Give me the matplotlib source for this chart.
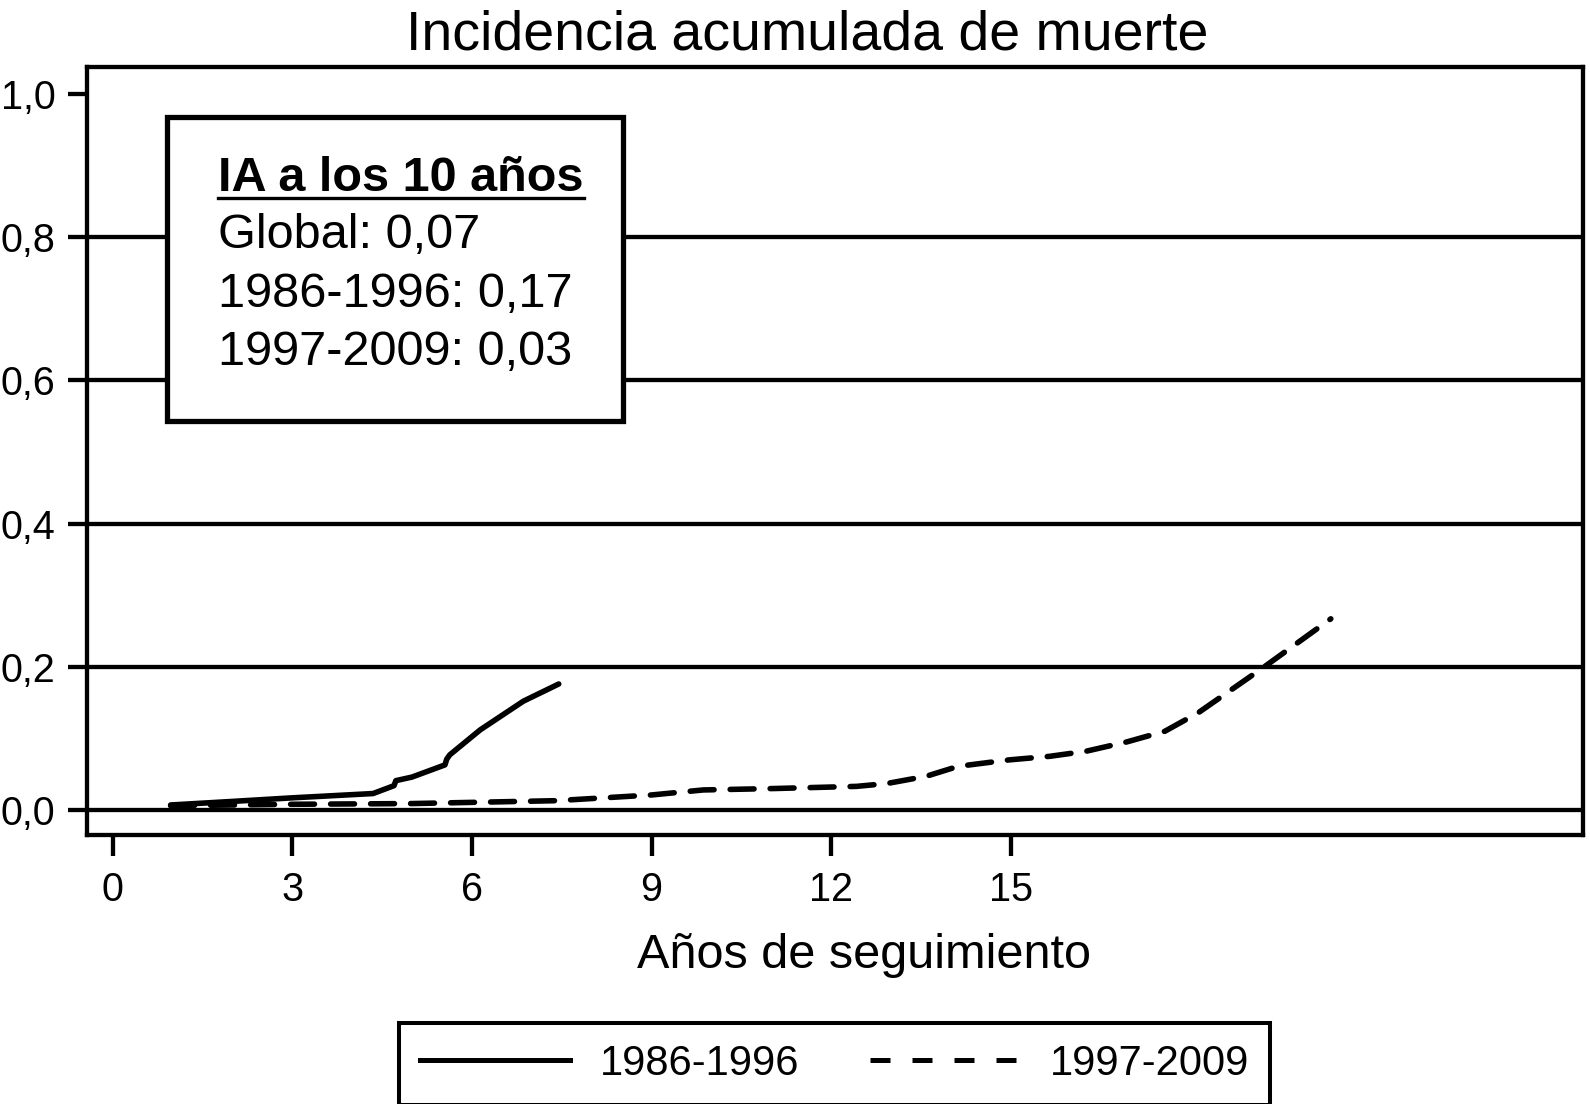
import matplotlib
matplotlib.use("Agg")
import matplotlib.pyplot as plt
from matplotlib.lines import Line2D
from matplotlib.patches import Rectangle

plt.rcParams['font.family'] = ['Liberation Sans', 'DejaVu Sans']

# ---- data ----
title = "Incidencia acumulada de muerte"
xlabel = "Años de seguimiento"
xticks = [0, 3, 6, 9, 12, 15]
yticks = [0.0, 0.2, 0.4, 0.6, 0.8, 1.0]
ytick_labels = ["0,0", "0,2", "0,4", "0,6", "0,8", "1,0"]
grid_levels = [0.0, 0.2, 0.4, 0.6, 0.8]

t_8696 = [0.97, 2.0, 3.0, 4.35, 4.70, 4.73, 5.0, 5.55, 5.58, 5.63, 6.14, 6.86, 7.45]
ia_8696 = [0.007, 0.012, 0.017, 0.023, 0.034, 0.041, 0.046, 0.063, 0.071, 0.077, 0.112, 0.152, 0.176]

t_9709 = [0.97, 2.0, 3.0, 5.0, 7.4, 9.0, 9.86, 11.05, 12.42, 12.93, 13.58, 14.12,
          14.97, 15.65, 16.25, 16.93, 17.57, 18.13, 19.23, 20.34]
ia_9709 = [0.006, 0.007, 0.008, 0.009, 0.013, 0.021, 0.028, 0.030, 0.033, 0.037, 0.047, 0.061,
           0.070, 0.075, 0.082, 0.095, 0.110, 0.136, 0.200, 0.267]

series_labels = ["1986-1996", "1997-2009"]
box_title = "IA a los 10 años"
box_lines = ["Global: 0,07", "1986-1996: 0,17", "1997-2009: 0,03"]

# ---- figure ----
W, H = 1590, 1104
fig = plt.figure(figsize=(W / 100, H / 100), dpi=100)
ax_l, ax_r, ax_t, ax_b = 87, 1583, 66.7, 835
ax = fig.add_axes([ax_l / W, 1 - ax_b / H, (ax_r - ax_l) / W, (ax_b - ax_t) / H])

ax.set_xlim(-0.426, 24.55)
ax.set_ylim(-0.0349, 1.038)

LW = 3.1
CLW = 4.0
for g in grid_levels:
    ax.axhline(g, color='black', lw=LW, zorder=1)

ax.plot(t_8696, ia_8696, color='black', lw=CLW, solid_capstyle='round', zorder=3)
ax.plot(t_9709, ia_9709, color='black', lw=CLW, ls=(0, (4.3, 2.9)), dash_capstyle='round', zorder=3)

for s in ax.spines.values():
    s.set_linewidth(LW)

ax.set_xticks(xticks)
ax.set_xticklabels([str(v) for v in xticks])
ax.set_yticks(yticks)
ax.set_yticklabels(ytick_labels)
ax.tick_params(axis='x', direction='out', length=15, width=LW, pad=11, labelsize=28.5)
ax.tick_params(axis='y', direction='out', length=13.7, width=LW, pad=9, labelsize=28.5)

# title and x label
fig.text(796 * W / 1568 / W, 1 - 49 / H, title, ha='center', va='baseline', fontsize=40)
fig.text(852.5 * W / 1568 / W, 1 - 968 / H, xlabel, ha='center', va='baseline', fontsize=35)

# annotation box
axw, axh = ax_r - ax_l, ax_b - ax_t
def fx(px):
    return (px - ax_l) / axw
def fy(py):
    return (ax_b - py) / axh

bx0, bx1, by0, by1 = 167, 623, 117, 421
ax.add_patch(Rectangle((fx(bx0), fy(by1)), fx(bx1) - fx(bx0), fy(by0) - fy(by1),
                       transform=ax.transAxes, facecolor='white', edgecolor='black',
                       lw=3.8, zorder=5))
tx = fx(218)
bt = ax.text(tx, fy(190.6), box_title, transform=ax.transAxes, ha='left', va='baseline',
             fontsize=35, fontweight='bold', zorder=6)
for i, line in enumerate(box_lines):
    ax.text(tx, fy(248.5 + 58.2 * i), line, transform=ax.transAxes, ha='left',
            va='baseline', fontsize=35, zorder=6)

fig.canvas.draw()
bb = bt.get_window_extent(renderer=fig.canvas.get_renderer())
inv = ax.transAxes.inverted()
(x0a, _), (x1a, _) = inv.transform([(bb.x0, 0), (bb.x1, 0)])
uy = fy(197.5)
ax.add_line(Line2D([x0a, x1a], [uy, uy], transform=ax.transAxes, color='black', lw=2.4, zorder=6))

# legend
h1 = Line2D([], [], color='black', lw=3.6)
h2 = Line2D([], [], color='black', lw=3.6, ls=(0, (4.0, 4.4)))
leg = fig.legend([h1, h2], series_labels, loc='center', bbox_to_anchor=(834.5 / W, 1 - 1064 / H),
                 ncol=2, fontsize=30, frameon=True, fancybox=False, edgecolor='black',
                 framealpha=1, handlelength=3.6, handletextpad=0.72, columnspacing=1.7,
                 borderpad=0.5, borderaxespad=0)
leg.get_frame().set_linewidth(2.9)

fig.savefig("out.png", dpi=100, facecolor='white')
